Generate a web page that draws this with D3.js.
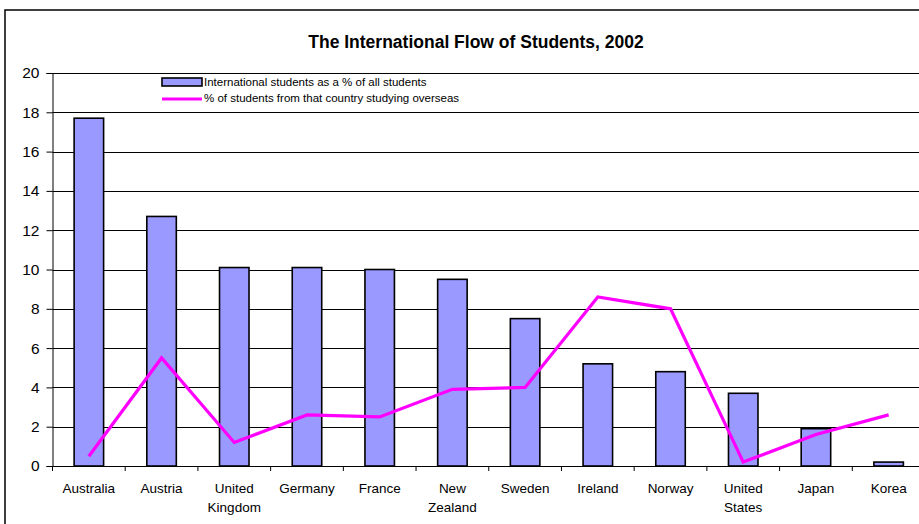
<!DOCTYPE html>
<html>
<head>
<meta charset="utf-8">
<script src="https://cdn.jsdelivr.net/npm/d3@7/dist/d3.min.js"></script>
<style>
  body { margin: 0; background: #fff; }
  svg { display: block; font-family: "Liberation Sans", Arial, sans-serif; }
</style>
</head>
<body>
<script>
// data
var countries = ["Australia", "Austria", "United\nKingdom", "Germany", "France", "New\nZealand",
                 "Sweden", "Ireland", "Norway", "United\nStates", "Japan", "Korea"];
var intlShare = [17.7, 12.7, 10.1, 10.1, 10.0, 9.5, 7.5, 5.2, 4.8, 3.7, 1.9, 0.2];
var overseas  = [0.5, 5.5, 1.2, 2.6, 2.5, 3.9, 4.0, 8.6, 8.0, 0.2, 1.6, 2.6];
var yTicks = [0, 2, 4, 6, 8, 10, 12, 14, 16, 18, 20];
var seriesNames = ["International students as a % of all students",
                   "% of students from that country studying overseas"];

var w = 919, h = 524;
var plotL = 52.5, plotR = 925, plotT = 73, plotB = 466;

var svg = d3.select("body").append("svg")
    .attr("width", w)
    .attr("height", h);

// outer frame (runs off the right/bottom edge like the original)
svg.append("rect")
    .attr("x", 5).attr("y", 10)
    .attr("width", 960).attr("height", 560)
    .attr("fill", "#fff")
    .attr("stroke", "#000")
    .attr("stroke-width", 1.5);

svg.append("text")
    .attr("x", 476).attr("y", 48)
    .attr("text-anchor", "middle")
    .attr("font-size", 17.5)
    .attr("font-weight", "bold")
    .text("The International Flow of Students, 2002");

var x = d3.scaleBand().domain(countries).range([plotL, plotR]);
var y = d3.scaleLinear().domain([0, 20]).range([plotB, plotT]);

// gridlines
svg.append("g").selectAll("line")
    .data(yTicks.filter(d => d > 0))
    .enter().append("line")
    .attr("x1", plotL).attr("x2", plotR)
    .attr("y1", d => Math.round(y(d)) + 0.5)
    .attr("y2", d => Math.round(y(d)) + 0.5)
    .attr("stroke", "#000")
    .attr("stroke-width", 1);

// y axis
var yAxis = svg.append("g")
    .attr("transform", "translate(" + plotL + ",0)")
    .call(d3.axisLeft(y).tickValues(yTicks).tickSize(6).tickPadding(7));
yAxis.selectAll("text").attr("font-size", 15.5).attr("font-family", "Liberation Sans, Arial").attr("fill", "#000");
yAxis.selectAll("line,path").attr("stroke", "#000");

// bars
var bw = 29.5;
svg.append("g").selectAll("rect")
    .data(intlShare)
    .enter().append("rect")
    .attr("x", (d, i) => x(countries[i]) + x.bandwidth() / 2 - bw / 2)
    .attr("y", d => y(d))
    .attr("width", bw)
    .attr("height", d => plotB - y(d))
    .attr("fill", "#9999ff")
    .attr("stroke", "#000")
    .attr("stroke-width", 1.6);

// x axis
var xAxis = svg.append("g")
    .attr("transform", "translate(0," + plotB + ")")
    .call(d3.axisBottom(x).tickSize(0).tickFormat(""));
xAxis.select("path").attr("stroke", "#000");
xAxis.selectAll(".tick").remove();
xAxis.selectAll("line.sep")
    .data(countries)
    .enter().append("line")
    .attr("x1", d => x(d)).attr("x2", d => x(d))
    .attr("y1", 0).attr("y2", 5)
    .attr("stroke", "#000");

var labels = svg.append("g").selectAll("text")
    .data(countries)
    .enter().append("text")
    .attr("x", d => x(d) + x.bandwidth() / 2)
    .attr("y", 493)
    .attr("text-anchor", "middle")
    .attr("font-size", 13.5);
labels.selectAll("tspan")
    .data(d => d.split("\n"))
    .enter().append("tspan")
    .attr("x", function () { return d3.select(this.parentNode).attr("x"); })
    .attr("dy", (d, i) => i ? 19 : 0)
    .text(d => d);

// line series
var line = d3.line()
    .x((d, i) => x(countries[i]) + x.bandwidth() / 2)
    .y(d => y(d));
svg.append("path")
    .datum(overseas)
    .attr("d", line)
    .attr("fill", "none")
    .attr("stroke", "#ff00ff")
    .attr("stroke-width", 3.2)
    .attr("stroke-linejoin", "miter");

// legend
var lg = svg.append("g").attr("transform", "translate(162,75)");
lg.append("rect").attr("x", -2).attr("y", 0).attr("width", 355).attr("height", 31).attr("fill", "#fff");
lg.append("rect").attr("x", 0).attr("y", 3).attr("width", 40).attr("height", 8)
    .attr("fill", "#9999ff").attr("stroke", "#000").attr("stroke-width", 1.6);
lg.append("line").attr("x1", 0).attr("x2", 40).attr("y1", 24).attr("y2", 24)
    .attr("stroke", "#ff00ff").attr("stroke-width", 3.2);
lg.selectAll("text")
    .data(seriesNames)
    .enter().append("text")
    .attr("x", 42)
    .attr("y", (d, i) => 11 + i * 16)
    .attr("font-size", 11.5)
    .text(d => d);
</script>
</body>
</html>
